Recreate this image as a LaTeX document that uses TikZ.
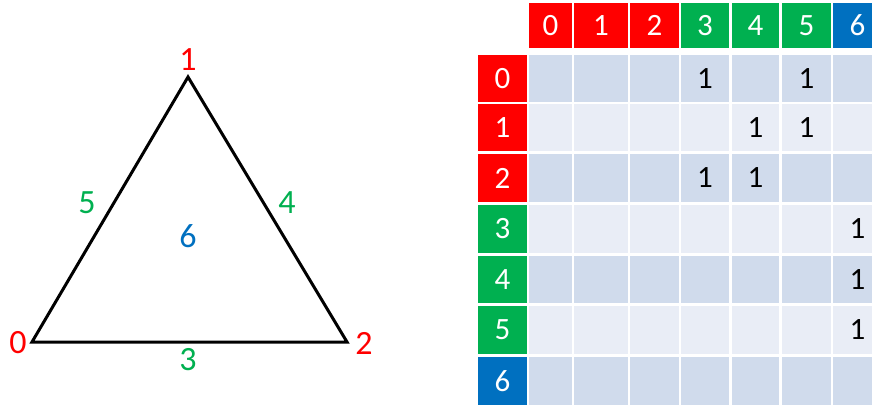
\documentclass[tikz,border=0pt]{standalone}
\usepackage{fontspec}
\setmainfont{Carlito}
\definecolor{cred}{HTML}{FF0000}
\definecolor{cgreen}{HTML}{00B050}
\definecolor{cblue}{HTML}{0070C0}
\definecolor{bandA}{HTML}{D0DBEC}
\definecolor{bandB}{HTML}{E9EDF6}
\begin{document}
\begin{tikzpicture}[x=1pt,y=-1pt,
  lbl/.style={font=\fontsize{34}{34}\selectfont, inner sep=0pt},
  hdr/.style={font=\fontsize{31}{31}\selectfont, text=white, inner sep=0pt},
  val/.style={font=\fontsize{31}{31}\selectfont, text=black, inner sep=0pt},
  tri/.style={line width=3pt, line join=miter}]
\useasboundingbox[fill=white] (0,0) rectangle (872,406);
% triangle
\coordinate (v0) at (32,342);
\coordinate (v1) at (188,77);
\coordinate (v2) at (347,342);
\draw[tri] (v0) -- (v1) -- (v2) -- cycle;
\node[lbl, text=cred] (l0) at (18,343) {0};
\node[lbl, text=cred] (l1) at (188,60) {1};
\node[lbl, text=cred] (l2) at (364,343) {2};
\node[lbl, text=cgreen] (l3) at (188,360) {3};
\node[lbl, text=cgreen] (l4) at (287,203) {4};
\node[lbl, text=cgreen] (l5) at (87,203) {5};
\node[lbl, text=cblue] (l6) at (188,236) {6};
% table
\def\colL{{529,574,630,681,732,782,833}}
\def\colR{{572,628,679,729,779,831,882}}
\def\rowT{{55,104,154,205,256,306,357}}
\def\rowB{{102,151,202,253,303,354,405}}
\foreach \c/\cc in {0/cred,1/cred,2/cred,3/cgreen,4/cgreen,5/cgreen,6/cblue}{
  \pgfmathsetmacro\xl{\colL[\c]}
  \pgfmathsetmacro\xr{\colR[\c]}
  \pgfmathsetmacro\xm{(\xl+\xr)/2}
  \pgfmathsetmacro\yt{\rowT[\c]}
  \pgfmathsetmacro\yb{\rowB[\c]}
  \pgfmathsetmacro\ym{(\yt+\yb)/2}
  \fill[\cc] (\xl,3) rectangle (\xr,48);
  \node[hdr] (h\c) at (\xm,25.5) {\c};
  \fill[\cc] (478,\yt) rectangle (527,\yb);
  \node[hdr] (r\c) at (502.5,\ym) {\c};
}
\foreach \r in {0,...,6}{
  \pgfmathtruncatemacro\band{mod(\r,2)}
  \pgfmathsetmacro\yt{\rowT[\r]}
  \pgfmathsetmacro\yb{\rowB[\r]}
  \foreach \c in {0,...,6}{
    \pgfmathsetmacro\xl{\colL[\c]}
    \pgfmathsetmacro\xr{\colR[\c]}
    \ifnum\band=0 \fill[bandA] (\xl,\yt) rectangle (\xr,\yb);
    \else \fill[bandB] (\xl,\yt) rectangle (\xr,\yb); \fi
  }
}
\foreach \r/\c in {0/3,0/5,1/4,1/5,2/3,2/4,3/6,4/6,5/6}{
  \pgfmathsetmacro\xl{\colL[\c]}
  \pgfmathsetmacro\xr{\colR[\c]}
  \pgfmathsetmacro\xm{(\xl+\xr)/2}
  \pgfmathsetmacro\yt{\rowT[\r]}
  \pgfmathsetmacro\yb{\rowB[\r]}
  \pgfmathsetmacro\ym{(\yt+\yb)/2}
  \node[val] (d\r\c) at (\xm,\ym) {1};
}
\end{tikzpicture}
\end{document}
